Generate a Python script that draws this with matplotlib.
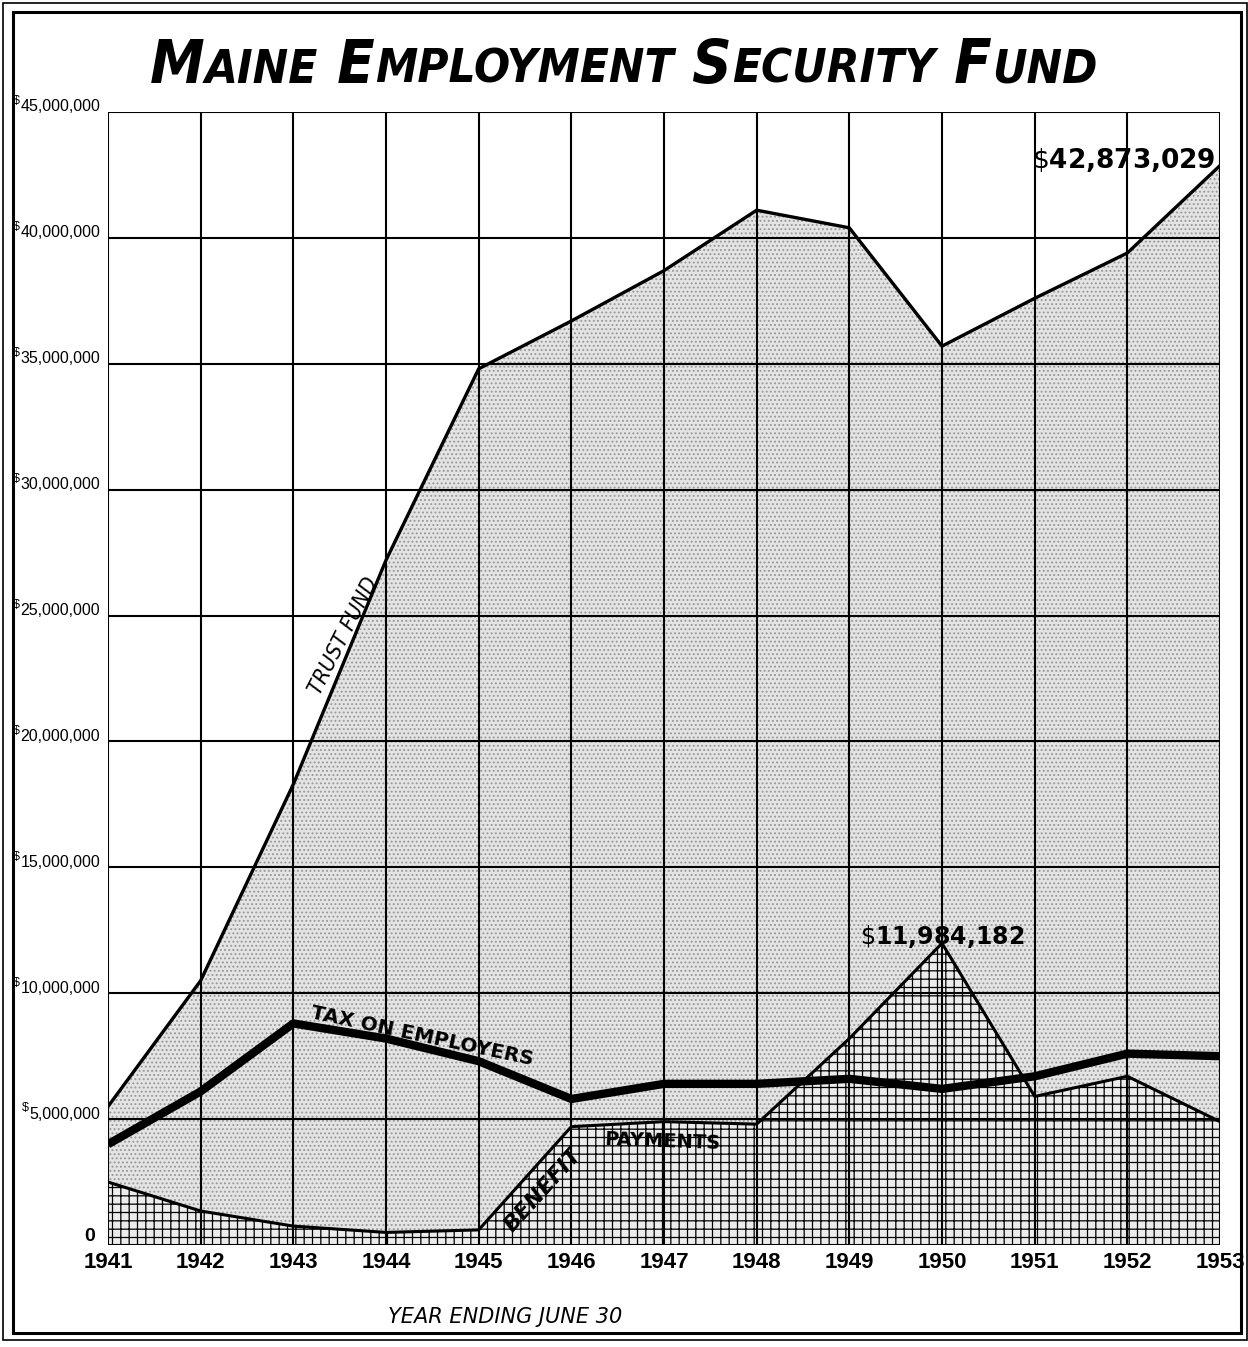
import numpy as np
import matplotlib.pyplot as plt
import matplotlib.font_manager as fm
from matplotlib.patches import Rectangle
import matplotlib.transforms as mtransforms

years = [1941, 1942, 1943, 1944, 1945, 1946, 1947, 1948, 1949, 1950, 1951, 1952, 1953]
trust_fund = [5.5, 10.5, 18.3, 27.2, 34.8, 36.7, 38.7, 41.1, 40.4, 35.7, 37.6, 39.4, 42.873029]
tax_employers = [4.0, 6.1, 8.8, 8.2, 7.3, 5.8, 6.4, 6.4, 6.6, 6.2, 6.7, 7.6, 7.5]
benefit_payments = [2.5, 1.35, 0.75, 0.5, 0.6, 4.7, 4.9, 4.8, 8.2, 11.984182, 5.9, 6.7, 4.9]
y_ticks = [0, 5, 10, 15, 20, 25, 30, 35, 40, 45]
y_labels = ['0', '5,000,000', '10,000,000', '15,000,000', '20,000,000', '25,000,000',
            '30,000,000', '35,000,000', '40,000,000', '45,000,000']

names = {f.name for f in fm.fontManager.ttflist}
narrow = 'Liberation Sans Narrow' if 'Liberation Sans Narrow' in names else 'Liberation Sans'
plt.rcParams['font.family'] = [narrow, 'DejaVu Sans']
plt.rcParams['hatch.linewidth'] = 0.9

fig = plt.figure(figsize=(12.48, 13.47), dpi=100)
ax = fig.add_axes([108/1248, 1 - 1245/1347, 1112/1248, 1133/1347])

x = np.array(years)
# stippled trust fund area
ax.fill_between(x, 0, trust_fund, facecolor='#e4e4e4', edgecolor='#9a9a9a', hatch='....', linewidth=0, zorder=1)
# cross-hatched benefit payments area
ax.fill_between(x, 0, benefit_payments, facecolor='#ececec', edgecolor='black', hatch='++', linewidth=0, zorder=1.2)

for yv in y_ticks:
    ax.axhline(yv, color='black', lw=1.5, zorder=2.5)
for xv in years:
    ax.axvline(xv, color='black', lw=1.5, zorder=2.5)

ax.plot(x, trust_fund, color='black', lw=2.4, zorder=3, solid_joinstyle='miter')
ax.plot(x, benefit_payments, color='black', lw=2.2, zorder=3)
ax.plot(x, tax_employers, color='black', lw=6, zorder=3.1, solid_capstyle='butt')

ax.set_xlim(1941, 1953)
ax.set_ylim(0, 45)
for s in ax.spines.values():
    s.set_visible(False)
ax.set_xticks(years)
ax.set_xticklabels([str(v) for v in years], fontsize=16, fontweight='bold')
ax.tick_params(axis='x', length=0, pad=5)
ax.set_yticks([])

ytr = mtransforms.blended_transform_factory(ax.transAxes, ax.transData)
for yv, lab in zip(y_ticks, y_labels):
    if yv == 0:
        ax.text(-0.012, yv + 0.35, lab, transform=ytr, ha='right', va='center', fontsize=14, fontweight='bold')
    else:
        t = ax.text(-0.007, yv + 0.2, lab, transform=ytr, ha='right', va='center', fontsize=11.5)
        ax.annotate('$', xy=(0, 1), xycoords=t, xytext=(-0.5, 3), textcoords='offset points',
                    ha='right', va='top', fontsize=9, annotation_clip=False)

# labels along the lines
ax.text(1943.54, 24.2, 'TRUST FUND', rotation=63, ha='center', va='center', fontsize=16,
        style='italic', family=['DejaVu Sans'], fontstretch='condensed')
ax.text(1944.39, 8.3, 'TAX ON EMPLOYERS', rotation=-12, ha='center', va='center', fontsize=14.5,
        fontweight='bold', family=['DejaVu Sans'])
ax.text(1945.7, 2.2, 'BENEFIT', rotation=48, ha='center', va='center', fontsize=16,
        style='italic', fontweight='bold', family=['DejaVu Sans'])
ax.text(1946.98, 4.1, 'PAYMENTS', rotation=-2, ha='center', va='center', fontsize=14,
        fontweight='bold', family=['DejaVu Sans'])
ax.text(1952.95, 43.1, r'$\$$42,873,029', ha='right', va='center', fontsize=19, fontweight='bold',
        family=['DejaVu Sans'])
ax.text(1950.0, 12.25, r'$\$$11,984,182', ha='center', va='center', fontsize=17, fontweight='semibold',
        family=['DejaVu Sans'])

fig.text(505/1248, 1 - 1317/1347, 'YEAR ENDING JUNE 30', ha='center', va='center', fontsize=15,
         style='italic', family=['DejaVu Sans'])

# title in small caps, pieces chained one after the other
pieces = [('M', 1), ('AINE', 0), (' E', 1), ('MPLOYMENT', 0), (' S', 1), ('ECURITY', 0), (' F', 1), ('UND', 0)]
big, small = 44, 34
desc = 0.236
prev = None
for txt, isbig in pieces:
    fs = big if isbig else small
    kw = dict(fontsize=fs, fontweight='bold', style='italic', family=['DejaVu Sans'], fontstretch='condensed')
    if prev is None:
        t = fig.text(150/1248, 1 - 96/1347, txt, ha='left', va='bottom', **kw)
    else:
        dy = desc * (prev[1] - fs)
        t = ax.annotate(txt, xy=(1, 0), xycoords=prev[0], xytext=(0, dy), textcoords='offset points',
                        ha='left', va='bottom', annotation_clip=False, **kw)
    prev = (t, fs)

# double border
fig.add_artist(Rectangle((3/1248, 7/1347), 1244/1248, 1337/1347, transform=fig.transFigure,
                         fill=False, lw=1.2, color='black'))
fig.add_artist(Rectangle((13/1248, 14/1347), 1228/1248, 1321/1347, transform=fig.transFigure,
                         fill=False, lw=2.2, color='black'))

fig.savefig('out.png', dpi=100)
